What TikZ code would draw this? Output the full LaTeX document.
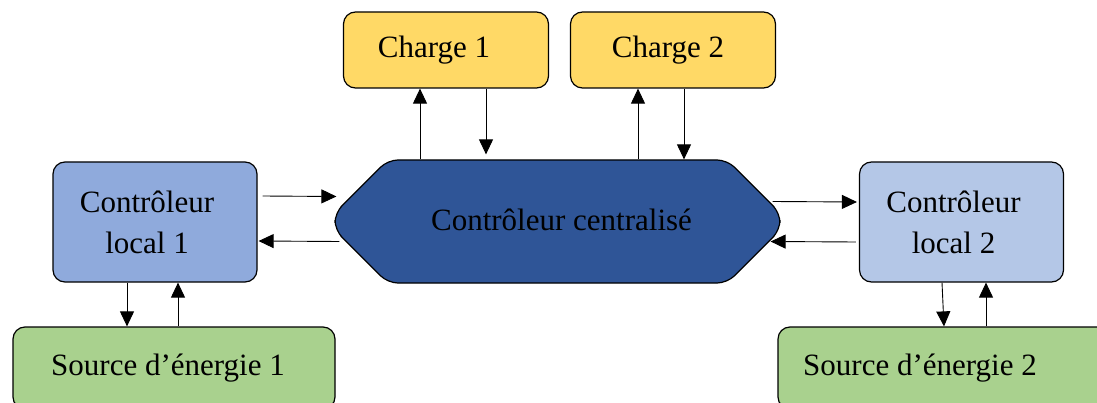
\documentclass[tikz,border=0pt]{standalone}
\usepackage{fontspec}
\setmainfont{Liberation Serif}
\usetikzlibrary{arrows.meta,shapes.misc}
\definecolor{cYel}{RGB}{255,217,102}
\definecolor{cGrn}{RGB}{169,209,142}
\definecolor{cBlu}{RGB}{143,170,220}
\definecolor{cLbl}{RGB}{180,199,231}
\definecolor{cDbl}{RGB}{47,85,151}

\begin{document}
\begin{tikzpicture}[x=1pt,y=1pt,font=\fontsize{31}{41}\selectfont,
  bx/.style={draw=black,line width=1.2pt,rounded corners=12pt,inner sep=0pt,align=center},
  ch/.style={bx,fill=cYel,minimum width=205pt,minimum height=76pt},
  lc/.style={bx,minimum width=204pt,minimum height=120pt},
  sr/.style={bx,fill=cGrn,minimum height=82pt},
  arr/.style={line width=0.9pt,-{Triangle[length=15pt,width=14pt]}}]
  \useasboundingbox (0,0) rectangle (1097,-403);
  \clip (0,0) rectangle (1097,-403);
  \node[ch] (ch1) at (446,-50) {Charge 1\hspace*{24pt}};
  \node[ch] (ch2) at (673,-50) {Charge 2\hspace*{10pt}};
  \node[draw=black,line width=1.2pt,fill=cDbl,chamfered rectangle,chamfered rectangle xsep=38pt,chamfered rectangle ysep=40pt,rounded corners=10pt,inner sep=0pt,minimum width=445pt,minimum height=123pt] (cen) at (557.5,-221.5) {\hspace*{8pt}\raisebox{4pt}{Contrôleur centralisé}};
  \node[lc,fill=cBlu] (lc1) at (155,-222) {Contrôleur\hspace*{16pt}\\local 1\hspace*{16pt}};
  \node[lc,fill=cLbl] (lc2) at (961.5,-222) {Contrôleur\hspace*{16pt}\\local 2\hspace*{16pt}};
  \node[sr,minimum width=322pt] (src1) at (174,-368) {Source d’énergie 1\hspace*{12pt}};
  \node[sr,minimum width=332pt] (src2) at (944,-368) {Source d’énergie 2\hspace*{48pt}};
  \draw[arr] ([xshift=-26pt]ch1.south |- cen.north) -- ([xshift=-26pt]ch1.south);
  \draw[arr] ([xshift=40pt]ch1.south) -- ([xshift=40pt,yshift=5pt]ch1.south |- cen.north);
  \draw[arr] ([xshift=-35pt]ch2.south |- cen.north) -- ([xshift=-35pt]ch2.south);
  \draw[arr] ([xshift=11pt]ch2.south) -- ([xshift=11pt]ch2.south |- cen.north);
  \draw[arr] ([xshift=5pt,yshift=26pt]lc1.east) -- ([xshift=2pt,yshift=25pt]cen.west);
  \draw[arr] ([xshift=5pt,yshift=-20pt]cen.west) -- ([xshift=1pt,yshift=-19pt]lc1.east);
  \draw[arr] ([xshift=-8pt,yshift=20pt]cen.east) -- ([xshift=-2pt,yshift=20pt]lc2.west);
  \draw[arr] ([xshift=-3pt,yshift=-20pt]lc2.west) -- ([xshift=-10pt,yshift=-20pt]cen.east);
  \draw[arr] ([xshift=-28pt]lc1.south) -- ([xshift=-28pt]lc1.south |- src1.north);
  \draw[arr] ([xshift=23pt]lc1.south |- src1.north) -- ([xshift=23pt]lc1.south);
  \draw[arr] ([xshift=-19.5pt]lc2.south) -- ([xshift=-17.5pt]lc2.south |- src2.north);
  \draw[arr] ([xshift=24.5pt]lc2.south |- src2.north) -- ([xshift=24.5pt]lc2.south);
\end{tikzpicture}
\end{document}
